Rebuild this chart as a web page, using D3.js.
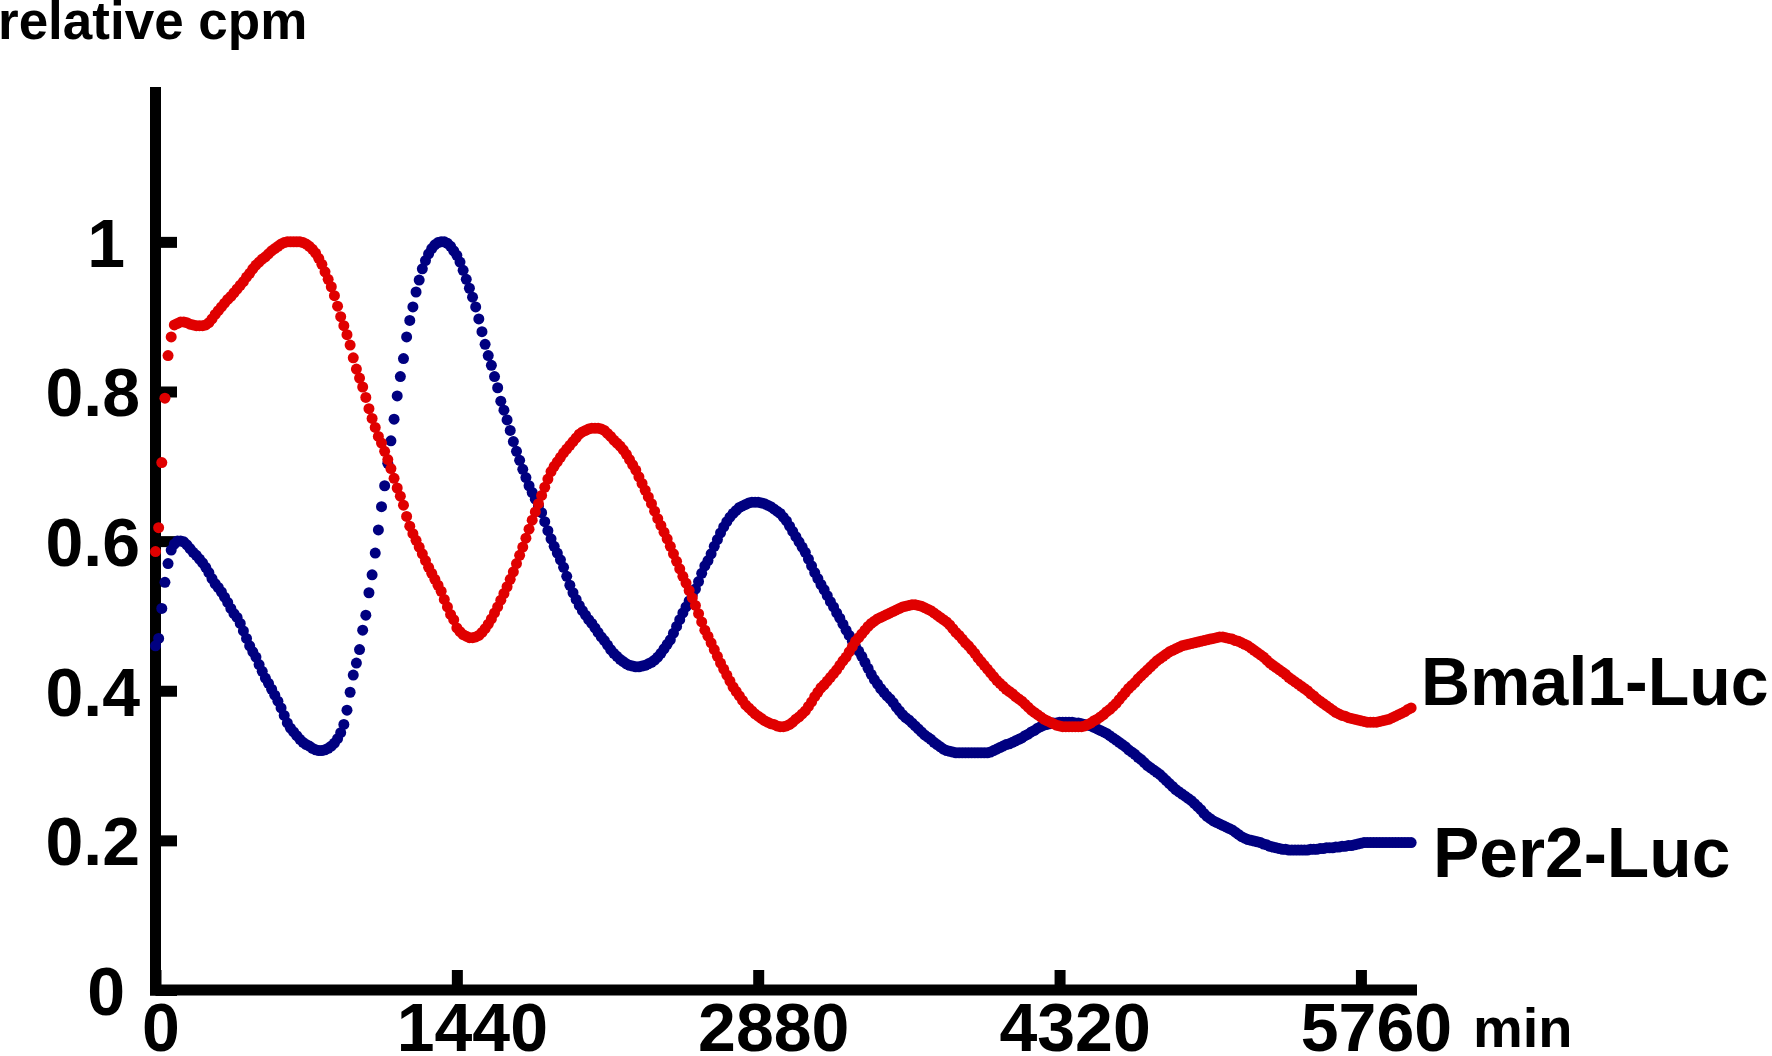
<!DOCTYPE html>
<html>
<head>
<meta charset="utf-8">
<script src="https://cdn.jsdelivr.net/npm/d3@7"></script>
<style>
  html, body { margin: 0; padding: 0; background: #ffffff; }
  svg { display: block; }
  text { font-family: "Liberation Sans", Arial, Helvetica, sans-serif; font-weight: bold; fill: #000; }
</style>
</head>
<body>
<svg id="chart" width="1772" height="1056"></svg>
<script>
// ---------- data ----------
const sampleIntervalMinutes = 15;

const seriesNames = ["Per2-Luc", "Bmal1-Luc"];

// Per2-Luc, relative cpm, one value every 15 min from 0 to 6000 min
const per2Luc = [
  .46,.47,.51,.545,.57,.588,.596,.60,
  .60,.599,.595,.59,.585,.581,.576,.571,
  .565,.558,.55,.543,.538,.532,.525,.518,
  .51,.503,.498,.49,.48,.47,.46,.452,
  .445,.435,.426,.417,.41,.402,.394,.386,
  .377,.367,.357,.35,.345,.34,.335,.331,
  .328,.326,.323,.321,.32,.32,.321,.323,
  .326,.33,.336,.344,.355,.374,.398,.421,
  .437,.455,.481,.501,.531,.555,.584,.615,
  .646,.674,.704,.734,.763,.794,.82,.844,
  .873,.895,.913,.933,.949,.964,.975,.984,
  .991,.996,.999,1,1,.998,.994,.988,
  .982,.973,.962,.95,.938,.926,.913,.897,
  .88,.863,.848,.835,.82,.805,.787,.775,
  .762,.748,.733,.72,.708,.696,.685,.674,
  .665,.656,.647,.638,.626,.614,.603,.593,
  .584,.575,.565,.553,.541,.531,.522,.514,
  .507,.501,.495,.49,.484,.478,.472,.467,
  .461,.455,.45,.446,.442,.439,.436,.434,
  .433,.432,.432,.433,.434,.436,.438,.441,
  .445,.45,.456,.462,.468,.477,.486,.495,
  .504,.512,.52,.528,.536,.546,.557,.567,
  .574,.583,.593,.602,.611,.619,.626,.632,
  .637,.641,.645,.647,.649,.651,.652,.652,
  .652,.651,.65,.648,.646,.643,.64,.637,
  .632,.627,.62,.613,.606,.599,.592,.585,
  .576,.567,.558,.55,.542,.535,.527,.519,
  .512,.504,.497,.489,.481,.474,.466,.459,
  .453,.446,.438,.43,.422,.415,.409,.403,
  .398,.393,.389,.384,.378,.373,.368,.364,
  .361,.357,.353,.349,.345,.341,.338,.335,
  .331,.328,.325,.322,.32,.319,.318,.317,
  .317,.317,.317,.317,.317,.317,.317,.317,
  .317,.317,.318,.32,.322,.324,.326,.328,
  .329,.331,.333,.335,.337,.34,.342,.345,
  .347,.35,.352,.354,.355,.356,.357,.357,
  .358,.358,.358,.358,.358,.357,.357,.356,
  .355,.354,.353,.351,.349,.347,.345,.343,
  .34,.337,.334,.331,.328,.325,.321,.318,
  .315,.311,.308,.304,.3,.297,.294,.291,
  .288,.284,.28,.276,.272,.268,.265,.262,
  .259,.256,.253,.249,.245,.241,.236,.232,
  .229,.226,.224,.222,.22,.218,.216,.214,
  .211,.208,.205,.203,.201,.2,.199,.198,
  .197,.195,.194,.192,.191,.19,.189,.188,
  .188,.187,.187,.187,.187,.187,.187,.187,
  .188,.188,.188,.189,.189,.19,.19,.19,
  .191,.191,.192,.192,.193,.193,.194,.195,
  .196,.197,.197,.197,.197,.197,.197,.197,
  .197,.197,.197,.197,.197,.197,.197,.197,
  .197
];

// Bmal1-Luc, relative cpm, one value every 15 min from 0 to 6000 min
const bmal1Luc = [
  .586,.618,.705,.791,.848,.873,.889,.891,
  .893,.893,.892,.89,.889,.888,.888,.888,
  .889,.892,.897,.903,.908,.913,.918,.923,
  .927,.932,.937,.942,.947,.953,.958,.964,
  .969,.973,.977,.98,.984,.988,.991,.994,
  .997,.999,1,1,1,1,1,.999,
  .997,.994,.99,.985,.978,.97,.96,.95,
  .94,.928,.914,.9,.888,.876,.862,.845,
  .83,.818,.806,.792,.777,.764,.752,.74,
  .731,.72,.709,.697,.684,.671,.66,.648,
  .633,.62,.61,.601,.592,.583,.574,.565,
  .557,.549,.541,.533,.522,.512,.502,.495,
  .484,.479,.475,.473,.471,.471,.472,.474,
  .478,.483,.489,.496,.504,.512,.521,.53,
  .539,.549,.559,.57,.581,.592,.604,.616,
  .628,.639,.65,.661,.672,.683,.693,.7,
  .706,.712,.718,.723,.728,.733,.738,.743,
  .746,.748,.75,.751,.751,.751,.75,.748,
  .744,.74,.735,.731,.727,.722,.716,.709,
  .702,.695,.686,.677,.668,.659,.65,.64,
  .63,.621,.612,.603,.593,.583,.573,.563,
  .553,.544,.534,.524,.514,.503,.492,.481,
  .473,.464,.455,.446,.437,.429,.421,.413,
  .405,.399,.393,.387,.381,.377,.373,.369,
  .366,.363,.36,.358,.356,.355,.353,.352,
  .352,.353,.355,.358,.362,.365,.369,.373,
  .379,.385,.392,.398,.404,.408,.413,.418,
  .423,.428,.434,.44,.445,.452,.459,.466,
  .471,.476,.481,.486,.49,.493,.496,.498,
  .5,.502,.504,.506,.508,.51,.512,.513,
  .514,.515,.515,.514,.513,.511,.509,.507,
  .504,.501,.498,.495,.492,.488,.483,.478,
  .474,.469,.464,.46,.455,.45,.444,.439,
  .434,.429,.424,.419,.414,.41,.406,.402,
  .399,.396,.392,.389,.386,.382,.378,.374,
  .371,.368,.365,.362,.36,.358,.356,.354,
  .353,.352,.352,.352,.352,.352,.352,.352,
  .353,.355,.357,.36,.362,.365,.368,.372,
  .375,.379,.383,.388,.393,.398,.403,.407,
  .411,.416,.42,.424,.428,.432,.436,.44,
  .443,.446,.449,.452,.454,.456,.458,.46,
  .461,.462,.463,.464,.465,.466,.467,.468,
  .469,.47,.471,.472,.472,.471,.47,.469,
  .467,.466,.464,.462,.46,.457,.454,.451,
  .448,.445,.441,.437,.434,.431,.428,.425,
  .422,.418,.415,.412,.409,.406,.403,.4,
  .396,.393,.389,.386,.383,.38,.377,.374,
  .371,.369,.367,.366,.364,.363,.362,.361,
  .36,.359,.358,.358,.358,.358,.359,.36,
  .361,.362,.364,.366,.368,.37,.372,.375,
  .377
];

const xTickValues = [0, 1440, 2880, 4320, 5760];
const xTickLabels = ["0", "1440", "2880", "4320", "5760"];
const yTickValues = [0, 0.2, 0.4, 0.6, 0.8, 1];
const yTickLabels = ["0", "0.2", "0.4", "0.6", "0.8", "1"];
const yAxisTitle = "relative cpm";
const xAxisUnit = "min";

// ---------- layout / style ----------
const colors = { "Per2-Luc": "#000080", "Bmal1-Luc": "#e00000" };
const axisStroke = 11;
const dotRadius = 5.5;

const svg = d3.select("#chart");

const x = d3.scaleLinear().domain([0, 6028]).range([155.5, 1417]);
const y = d3.scaleLinear().domain([0, 1.207]).range([990, 87]);

// axis lines
const axes = svg.append("g");
axes.append("line")
  .attr("x1", x(0)).attr("x2", x(0))
  .attr("y1", y.range()[1]).attr("y2", y(0) + axisStroke / 2)
  .attr("stroke", "#000").attr("stroke-width", axisStroke);
axes.append("line")
  .attr("x1", x(0) - axisStroke / 2).attr("x2", x.range()[1])
  .attr("y1", y(0)).attr("y2", y(0))
  .attr("stroke", "#000").attr("stroke-width", axisStroke);

// y axis ticks + labels
const yAxis = d3.axisLeft(y)
  .tickValues(yTickValues)
  .tickSize(-(177 - x(0)))
  .tickSizeOuter(0)
  .tickPadding(0)
  .tickFormat((d, i) => yTickLabels[i]);
const gy = svg.append("g").attr("transform", `translate(${x(0)},0)`).call(yAxis);
gy.select(".domain").remove();
gy.selectAll(".tick line").attr("stroke", "#000").attr("stroke-width", axisStroke);
gy.selectAll(".tick text")
  .attr("font-size", 68)
  .attr("font-family", null)
  .attr("fill", "#000")
  .attr("text-anchor", "end")
  .attr("x", d => (String(d).includes(".") ? 140 : 125) - x(0))
  .attr("dy", "0.36em");

// x axis ticks + labels
const xAxis = d3.axisBottom(x)
  .tickValues(xTickValues)
  .tickSize(-20)
  .tickSizeOuter(0)
  .tickPadding(0)
  .tickFormat((d, i) => xTickLabels[i]);
const gx = svg.append("g").attr("transform", `translate(0,${y(0)})`).call(xAxis);
gx.select(".domain").remove();
gx.selectAll(".tick line").attr("stroke", "#000").attr("stroke-width", axisStroke);
gx.selectAll(".tick text")
  .attr("font-size", 68)
  .attr("font-family", null)
  .attr("fill", "#000")
  .attr("text-anchor", "middle")
  .attr("y", 61)
  .attr("dy", 0)
  .attr("dx", (d, i) => xTickLabels[i].length > 1 ? 15 : 5);

// unit and axis title
svg.append("text")
  .attr("x", 1473).attr("y", 1047)
  .attr("font-size", 56)
  .text(xAxisUnit);
svg.append("text")
  .attr("x", -2).attr("y", 39)
  .attr("font-size", 53)
  .text(yAxisTitle);

// series (Per2 first, Bmal1 drawn on top)
const seriesData = {
  "Per2-Luc": per2Luc,
  "Bmal1-Luc": bmal1Luc
};
seriesNames.forEach(name => {
  const vals = seriesData[name];
  svg.append("g")
    .attr("fill", colors[name])
    .selectAll("circle")
    .data(vals)
    .join("circle")
    .attr("cx", (d, i) => x(i * sampleIntervalMinutes))
    .attr("cy", d => y(d))
    .attr("r", dotRadius);
});

// series labels
const labelPos = { "Bmal1-Luc": { x: 1421, y: 705, size: 68 }, "Per2-Luc": { x: 1433, y: 877, size: 69.5 } };
seriesNames.forEach(name => {
  svg.append("text")
    .attr("x", labelPos[name].x)
    .attr("y", labelPos[name].y)
    .attr("font-size", labelPos[name].size)
    .text(name);
});
</script>
</body>
</html>
